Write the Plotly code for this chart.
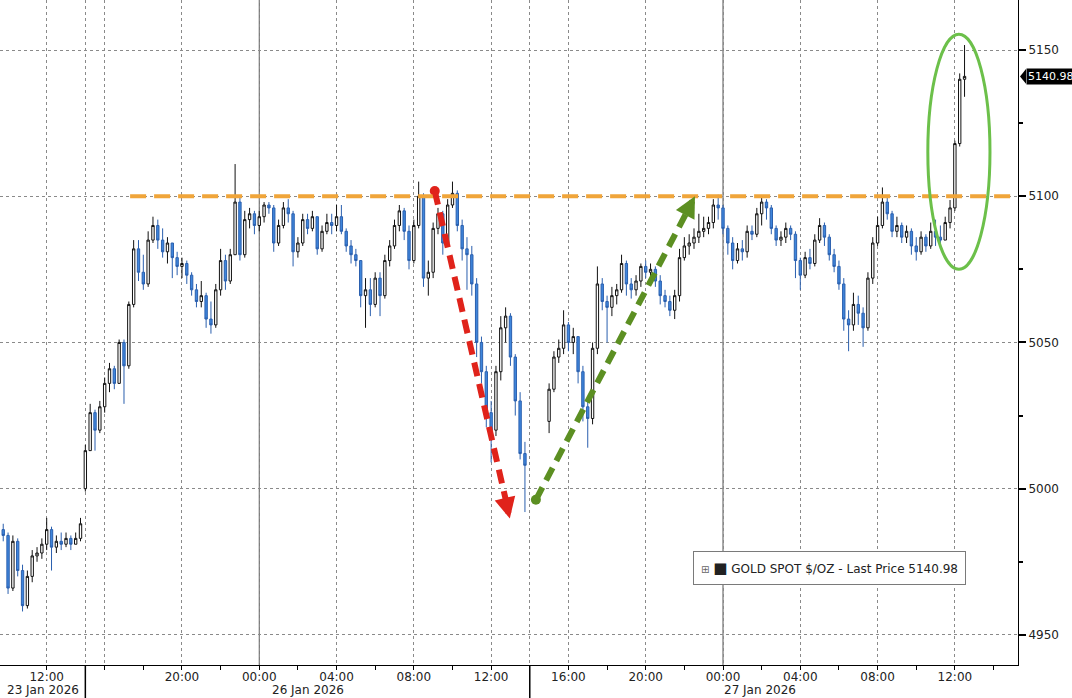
import pandas as pd
import plotly.graph_objects as go

# ---------------- data (15-minute bars) ----------------
session_starts = ["2026-01-23 09:45", "2026-01-25 15:00", "2026-01-26 15:00"]
session_opens = [4986, 5000, 5023]

close_a = [4984, 4966, 4982, 4972, 4960, 4970, 4977, 4978, 4981, 4986, 4980, 4982, 4981, 4983, 4981, 4983, 4988]
high_a = [4988, 4985, 4984, 4983, 4974, 4972, 4979, 4980, 4983, 4990, 4987, 4984, 4985, 4985, 4984, 4985, 4990]
low_a = [4982, 4964, 4965, 4970, 4958, 4959, 4968, 4975, 4976, 4979, 4972, 4978, 4979, 4980, 4979, 4981, 4982]

close_b = [5013, 5026, 5020, 5028, 5036, 5041, 5036, 5050, 5042, 5063, 5082, 5074, 5070, 5085, 5090, 5085,
           5081, 5084, 5079, 5076, 5077, 5073, 5068, 5064, 5066, 5058, 5056, 5068, 5078, 5071, 5080, 5098,
           5080, 5092, 5094, 5090, 5093, 5097, 5096, 5084, 5090, 5096, 5094, 5081, 5084, 5092, 5089, 5093,
           5082, 5088, 5091, 5090, 5093, 5088, 5083, 5080, 5078, 5066, 5068, 5063, 5072, 5066, 5078, 5083,
           5090, 5095, 5088, 5078, 5090, 5100, 5072, 5074, 5089, 5094, 5084, 5097, 5101, 5090, 5082, 5080,
           5070, 5050, 5040, 5026, 5020, 5040, 5055, 5059, 5045, 5030, 5012, 5008]
high_b = [5015, 5029, 5027, 5030, 5038, 5043, 5042, 5051, 5051, 5064, 5085, 5085, 5080, 5088, 5093, 5092,
          5089, 5086, 5084, 5081, 5079, 5078, 5074, 5070, 5071, 5067, 5064, 5070, 5082, 5080, 5082, 5111,
          5100, 5095, 5096, 5095, 5095, 5098, 5098, 5097, 5092, 5098, 5099, 5095, 5086, 5094, 5094, 5095,
          5093, 5090, 5094, 5094, 5097, 5097, 5089, 5085, 5082, 5078, 5072, 5072, 5074, 5074, 5080, 5085,
          5092, 5097, 5096, 5090, 5092, 5105, 5101, 5078, 5091, 5096, 5095, 5099, 5105, 5102, 5092, 5086,
          5083, 5072, 5052, 5042, 5030, 5042, 5059, 5062, 5060, 5046, 5033, 5016]
low_b = [4999, 5013, 5013, 5019, 5026, 5033, 5034, 5036, 5029, 5041, 5062, 5071, 5068, 5069, 5084, 5082,
         5079, 5077, 5072, 5073, 5072, 5070, 5066, 5062, 5062, 5055, 5053, 5055, 5066, 5068, 5070, 5080,
         5078, 5079, 5089, 5087, 5088, 5091, 5094, 5081, 5083, 5089, 5091, 5076, 5079, 5083, 5087, 5088,
         5080, 5081, 5087, 5087, 5088, 5087, 5081, 5077, 5076, 5062, 5055, 5059, 5062, 5059, 5065, 5076,
         5082, 5088, 5085, 5075, 5077, 5089, 5069, 5066, 5072, 5087, 5080, 5083, 5096, 5088, 5078, 5068,
         5066, 5045, 5036, 5021, 5009, 5018, 5037, 5050, 5042, 5025, 5010, 4992]

close_c = [5034, 5045, 5048, 5056, 5050, 5052, 5040, 5028, 5024, 5048, 5070, 5064, 5062, 5066, 5068, 5077,
           5070, 5068, 5071, 5076, 5074, 5075, 5071, 5066, 5064, 5061, 5066, 5079, 5083, 5084, 5086, 5088,
           5089, 5091, 5097, 5096, 5089, 5084, 5078, 5082, 5081, 5088, 5087, 5094, 5098, 5096, 5089, 5085,
           5086, 5089, 5087, 5078, 5073, 5079, 5077, 5085, 5090, 5086, 5080, 5076, 5070, 5058, 5056, 5063,
           5060, 5055, 5072, 5084, 5090, 5098, 5094, 5088, 5090, 5086, 5088, 5083, 5081, 5086, 5083, 5088,
           5086, 5085, 5091, 5096, 5118, 5140, 5140.98]
high_c = [5036, 5047, 5051, 5061, 5057, 5055, 5052, 5042, 5030, 5050, 5076, 5072, 5066, 5069, 5070, 5080,
          5078, 5072, 5073, 5077, 5078, 5077, 5076, 5073, 5068, 5066, 5068, 5082, 5086, 5087, 5089, 5094,
          5093, 5093, 5099, 5100.5, 5097, 5090, 5086, 5084, 5085, 5090, 5090, 5096, 5099.5, 5099, 5097, 5090,
          5088, 5091, 5090, 5088, 5079, 5081, 5082, 5087, 5092.5, 5091, 5087, 5082, 5078, 5072, 5061, 5067,
          5066, 5062, 5074, 5086, 5093, 5103, 5100, 5095, 5093, 5091, 5090, 5089, 5086, 5088, 5087, 5091,
          5092, 5090, 5093, 5098.7, 5119, 5142, 5151.7]
low_c = [5019, 5033, 5043, 5046, 5047, 5046, 5036, 5023, 5014, 5022, 5046, 5061, 5050, 5059, 5063, 5067,
         5066, 5065, 5066, 5069, 5072, 5071, 5069, 5063, 5062, 5059, 5058, 5064, 5078, 5080, 5082, 5084,
         5086, 5087, 5089, 5092, 5087, 5080, 5075, 5077, 5078, 5079, 5085, 5086, 5090, 5092, 5087, 5083,
         5083, 5084, 5085, 5072, 5068, 5072, 5075, 5076, 5084, 5083, 5078, 5074, 5068, 5054, 5047, 5054,
         5056, 5048.5, 5054, 5070, 5083, 5089, 5092, 5086, 5086, 5084, 5084, 5080, 5078, 5080, 5081, 5082,
         5083, 5082, 5085, 5089, 5095, 5117, 5134]

last_price = 5140.98

tick_times = ["2026-01-23 12:00", "2026-01-25 15:00", "2026-01-25 16:00", "2026-01-25 20:00",
              "2026-01-26 00:00", "2026-01-26 04:00", "2026-01-26 08:00", "2026-01-26 12:00",
              "2026-01-26 14:00", "2026-01-26 16:00", "2026-01-26 20:00", "2026-01-27 00:00",
              "2026-01-27 04:00", "2026-01-27 08:00", "2026-01-27 12:00"]
tick_labels = ["12:00", "", "", "20:00", "00:00", "04:00", "08:00", "12:00", "",
               "16:00", "20:00", "00:00", "04:00", "08:00", "12:00"]
minor_times = ["2026-01-25 18:00", "2026-01-25 22:00", "2026-01-26 02:00", "2026-01-26 06:00",
               "2026-01-26 10:00", "2026-01-26 18:00", "2026-01-26 22:00", "2026-01-27 02:00",
               "2026-01-27 06:00", "2026-01-27 10:00", "2026-01-27 14:00"]
date_labels = ["23 Jan 2026", "26 Jan 2026", "27 Jan 2026"]
date_label_times = ["2026-01-23 11:50", "2026-01-26 02:32", "2026-01-27 01:56"]
y_ticks = [4950, 5000, 5050, 5100, 5150]
y_minor = [4975, 5025, 5075, 5125]

# ---------------- build bars ----------------
times, O, H, L, C = [], [], [], [], []
for start, o0, cs, hs, ls in zip(session_starts, session_opens,
                                 [close_a, close_b, close_c],
                                 [high_a, high_b, high_c],
                                 [low_a, low_b, low_c]):
    ts = pd.date_range(start, periods=len(cs), freq="15min")
    prev = o0
    for t, c, h, l in zip(ts, cs, hs, ls):
        times.append(t)
        O.append(prev)
        C.append(c)
        H.append(max(h, prev, c))
        L.append(min(l, prev, c))
        prev = c

fig = go.Figure()
fig.add_trace(go.Candlestick(
    x=times, open=O, high=H, low=L, close=C,
    increasing=dict(line=dict(color="#111111", width=1), fillcolor="#ffffff"),
    decreasing=dict(line=dict(color="#2a5fae", width=1), fillcolor="#3f86dc"),
    whiskerwidth=0, showlegend=False, name="GOLD SPOT $/OZ",
))

FONT = "DejaVu Sans"
RED = "#e0231b"
GREEN = "#5c8f22"
ORANGE = "#f0a53a"
ELLIPSE = "#6cc04a"

# arrows: dots
fig.add_trace(go.Scatter(x=["2026-01-26 09:05"], y=[5101.8], mode="markers",
                         marker=dict(color=RED, size=10), showlegend=False, hoverinfo="skip"))
fig.add_trace(go.Scatter(x=["2026-01-26 14:19"], y=[4996.2], mode="markers",
                         marker=dict(color=GREEN, size=10), showlegend=False, hoverinfo="skip"))

shapes = []
# solid day separators in plot
for t in ["2026-01-26 00:00", "2026-01-27 00:00"]:
    shapes.append(dict(type="line", xref="x", yref="paper", x0=t, x1=t, y0=0, y1=1,
                       line=dict(color="#555555", width=1), layer="below"))
# session separators below axis
for t in ["2026-01-25 15:00", "2026-01-26 14:00"]:
    shapes.append(dict(type="line", xref="x", yref="paper", x0=t, x1=t, y0=-0.05, y1=0,
                       line=dict(color="#000000", width=1.5)))
# orange resistance line
shapes.append(dict(type="line", xref="x", yref="y", x0="2026-01-25 17:19", x1="2026-01-27 15:16",
                   y0=5100, y1=5100, line=dict(color=ORANGE, width=4, dash="16px,8px")))
# red dashed arrow body
shapes.append(dict(type="line", xref="x", yref="y", x0="2026-01-26 09:05", y0=5101.8,
                   x1="2026-01-26 12:48", y1=4995.0, line=dict(color=RED, width=6, dash="14px,8px")))
# green dashed arrow body
shapes.append(dict(type="line", xref="x", yref="y", x0="2026-01-26 14:19", y0=4996.2,
                   x1="2026-01-26 22:13", y1=5095.7, line=dict(color=GREEN, width=6, dash="14px,8px")))
# ellipse
shapes.append(dict(type="circle", xref="x", yref="y", x0="2026-01-27 10:36", x1="2026-01-27 13:49",
                   y0=5075.0, y1=5155.4, line=dict(color=ELLIPSE, width=3)))
# last price tag pointer
px = 1.0 / 1018
shapes.append(dict(type="path", xref="paper", yref="y",
                   path=f"M {1 + 2 * px},{last_price} L {1 + 8 * px},{last_price + 2.5} "
                        f"L {1 + 8 * px},{last_price - 2.5} Z",
                   fillcolor="#000000", line=dict(color="#000000", width=0)))

annotations = []
# arrow heads
annotations.append(dict(x="2026-01-26 12:58", y=4989.8, xref="x", yref="y", text="", showarrow=True,
                        arrowhead=2, arrowsize=0.7, arrowwidth=6, arrowcolor=RED, ax=-5, ay=-21))
annotations.append(dict(x="2026-01-26 22:33", y=5100.0, xref="x", yref="y", text="", showarrow=True,
                        arrowhead=2, arrowsize=0.7, arrowwidth=6, arrowcolor=GREEN, ax=-10, ay=19))
# last price tag
annotations.append(dict(x=1 + 8 * px, y=last_price, xref="paper", yref="y", xanchor="left",
                        yanchor="middle", text=f"{last_price:.2f}", showarrow=False,
                        font=dict(family=FONT, size=11, color="#ffffff"), bgcolor="#000000", borderpad=1))
# date labels
for lbl, t in zip(date_labels, date_label_times):
    annotations.append(dict(x=t, y=-33 / 665, xref="x", yref="paper", text=lbl, showarrow=False,
                            xanchor="center", yanchor="bottom", borderpad=0,
                            font=dict(family=FONT, size=12, color="#222222")))
# legend box
annotations.append(dict(x=693 / 1018, y=0.146, xref="paper", yref="paper", xanchor="left", yanchor="middle",
                        text="<span style='font-size:10px;color:#666'>⊞</span> "
                             "<span style='font-size:15px'>■</span> GOLD SPOT $/OZ - Last Price "
                             f"{last_price:.2f}",
                        showarrow=False, font=dict(family=FONT, size=12, color="#222222"),
                        bgcolor="#ffffff", bordercolor="#7a7a7a", borderwidth=1, borderpad=7))

fig.update_layout(
    width=1072, height=698,
    margin=dict(l=0, r=54, t=0, b=33),
    paper_bgcolor="#ffffff", plot_bgcolor="#ffffff",
    shapes=shapes, annotations=annotations,
    showlegend=False,
    font=dict(family=FONT, size=12, color="#222222"),
)

fig.update_xaxes(
    type="date",
    range=["2026-01-23 09:35", "2026-01-27 15:16"],
    rangebreaks=[dict(values=["2026-01-23 14:00"], dvalue=49 * 3600 * 1000)],
    rangeslider_visible=False,
    tickmode="array", tickvals=tick_times, ticktext=tick_labels,
    ticks="outside", ticklen=4, tickcolor="#000000", ticklabelstandoff=-3,
    showgrid=True, gridcolor="#8a8a8a", griddash="dot", gridwidth=1,
    showline=True, linecolor="#000000", linewidth=1,
    tickfont=dict(family=FONT, size=12, color="#222222"),
    minor=dict(tickvals=minor_times, ticks="outside", ticklen=4, tickcolor="#000000", showgrid=False),
    zeroline=False,
)
fig.update_yaxes(
    side="right", range=[4939.7, 5167.1],
    tickmode="array", tickvals=y_ticks,
    ticks="outside", ticklen=7, tickwidth=2, tickcolor="#000000",
    showgrid=True, gridcolor="#8a8a8a", griddash="dot", gridwidth=1,
    showline=True, linecolor="#000000", linewidth=1,
    minor=dict(tickvals=y_minor, ticks="outside", ticklen=4, tickcolor="#000000", showgrid=False),
    tickfont=dict(family=FONT, size=12, color="#222222"),
    zeroline=False,
)

fig.write_html("out.html", config={"displayModeBar": False},
               post_script="document.body.style.margin='0';document.body.style.overflow='hidden';")
